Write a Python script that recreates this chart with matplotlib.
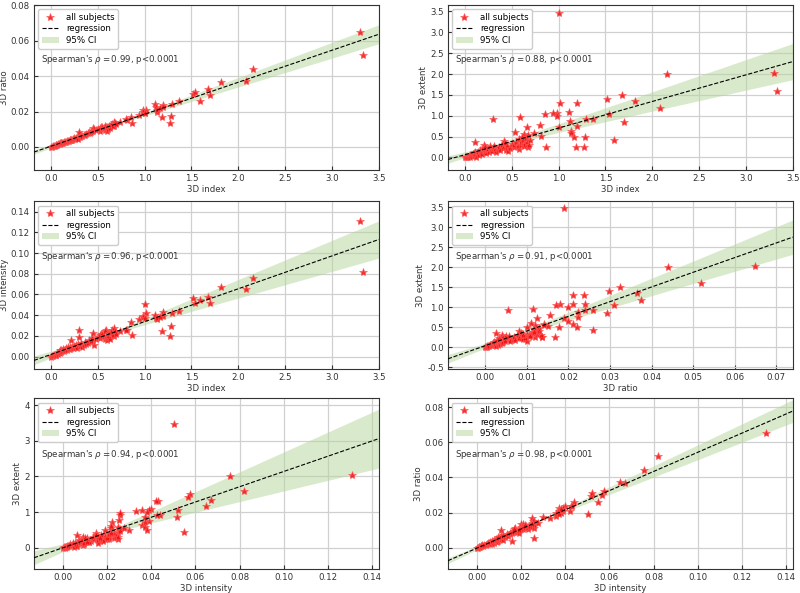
import numpy as np
import matplotlib
matplotlib.use("Agg")
import matplotlib.pyplot as plt
from matplotlib.ticker import FormatStrFormatter

# ---- per-subject data ----
index = [3.30, 3.33, 2.16, 2.08, 1.82, 1.68, 1.70, 1.59, 1.52, 1.54,
         1.00, 0.30, 1.37, 1.29, 1.28, 1.27, 1.19, 1.20, 1.02, 1.11,
         0.98, 0.94, 0.85, 0.59, 0.98, 1.12, 1.20, 1.13, 1.13, 1.16,
         1.00, 0.87, 0.81, 0.80, 0.74, 0.66, 0.63, 0.53, 0.52, 0.58,
         0.67, 0.11, 0.20, 0.42, 0.45,
         0.00, 0.01, 0.02, 0.03, 0.04, 0.05, 0.06, 0.07, 0.08, 0.09,
         0.10, 0.10, 0.11, 0.12, 0.13, 0.14, 0.15, 0.16, 0.17, 0.18,
         0.19, 0.20, 0.21, 0.22, 0.23, 0.24, 0.25, 0.26, 0.27, 0.28,
         0.29, 0.30, 0.31, 0.32, 0.33, 0.35, 0.36, 0.38, 0.40, 0.41,
         0.43, 0.44, 0.45, 0.46, 0.48, 0.50, 0.52, 0.55, 0.57, 0.58,
         0.60, 0.60, 0.61, 0.62, 0.63, 0.64, 0.65, 0.66, 0.67, 0.68,
         0.70]
ratio = [0.0650, 0.0520, 0.0440, 0.0374, 0.0366, 0.0325, 0.0293, 0.0260, 0.0298, 0.0310,
         0.0190, 0.0055, 0.0258, 0.0240, 0.0176, 0.0136, 0.0168, 0.0237, 0.0210, 0.0240,
         0.0210, 0.0180, 0.0170, 0.0115, 0.0200, 0.0224, 0.0224, 0.0200, 0.0210, 0.0220,
         0.0190, 0.0136, 0.0150, 0.0155, 0.0140, 0.0125, 0.0120, 0.0110, 0.0090, 0.0095,
         0.0120, 0.0025, 0.0040, 0.0080, 0.0090,
         0.0000, 0.0002, 0.0003, 0.0005, 0.0007, 0.0010, 0.0009, 0.0013, 0.0015, 0.0016,
         0.0018, 0.0022, 0.0020, 0.0025, 0.0023, 0.0027, 0.0030, 0.0028, 0.0033, 0.0035,
         0.0032, 0.0038, 0.0040, 0.0042, 0.0039, 0.0045, 0.0048, 0.0043, 0.0050, 0.0052,
         0.0047, 0.0085, 0.0058, 0.0062, 0.0060, 0.0066, 0.0070, 0.0072, 0.0078, 0.0082,
         0.0085, 0.0090, 0.0105, 0.0100, 0.0095, 0.0100, 0.0108, 0.0112, 0.0105, 0.0118,
         0.0090, 0.0115, 0.0100, 0.0120, 0.0108, 0.0125, 0.0130, 0.0118, 0.0140, 0.0135,
         0.0128]
intensity = [0.1310, 0.0820, 0.0755, 0.0650, 0.0670, 0.0578, 0.0515, 0.0550, 0.0565, 0.0520,
             0.0505, 0.0260, 0.0440, 0.0425, 0.0300, 0.0200, 0.0250, 0.0430, 0.0420, 0.0400,
             0.0390, 0.0360, 0.0330, 0.0260, 0.0380, 0.0370, 0.0390, 0.0360, 0.0370, 0.0380,
             0.0370, 0.0210, 0.0260, 0.0255, 0.0250, 0.0225, 0.0220, 0.0220, 0.0180, 0.0170,
             0.0200, 0.0065, 0.0090, 0.0150, 0.0160,
             0.0000, 0.0005, 0.0008, 0.0012, 0.0015, 0.0020, 0.0018, 0.0030, 0.0025, 0.0040,
             0.0035, 0.0060, 0.0045, 0.0050, 0.0070, 0.0055, 0.0065, 0.0080, 0.0060, 0.0090,
             0.0075, 0.0070, 0.0160, 0.0085, 0.0095, 0.0080, 0.0100, 0.0090, 0.0110, 0.0085,
             0.0120, 0.0190, 0.0100, 0.0130, 0.0095, 0.0110, 0.0140, 0.0120, 0.0135, 0.0160,
             0.0150, 0.0180, 0.0230, 0.0110, 0.0170, 0.0190, 0.0210, 0.0220, 0.0200, 0.0250,
             0.0160, 0.0175, 0.0190, 0.0230, 0.0170, 0.0240, 0.0260, 0.0210, 0.0275, 0.0250,
             0.0220]
extent = [2.03, 1.60, 2.00, 1.18, 1.35, 1.50, 0.86, 0.43, 1.41, 1.05,
          3.47, 0.93, 0.93, 0.92, 0.50, 0.24, 0.24, 1.31, 1.31, 1.08,
          1.07, 1.07, 1.04, 0.96, 1.00, 0.87, 0.76, 0.64, 0.58, 0.50,
          0.72, 0.24, 0.52, 0.79, 0.58, 0.72, 0.56, 0.60, 0.24, 0.20,
          0.26, 0.36, 0.30, 0.40, 0.24,
          0.00, 0.01, 0.02, 0.00, 0.03, 0.05, 0.02, 0.06, 0.04, 0.08,
          0.10, 0.05, 0.12, 0.02, 0.09, 0.14, 0.06, 0.18, 0.11, 0.08,
          0.22, 0.15, 0.13, 0.25, 0.10, 0.17, 0.20, 0.12, 0.27, 0.19,
          0.15, 0.23, 0.28, 0.18, 0.14, 0.21, 0.25, 0.17, 0.30, 0.22,
          0.35, 0.19, 0.28, 0.16, 0.23, 0.33, 0.30, 0.38, 0.27, 0.45,
          0.31, 0.36, 0.50, 0.42, 0.28, 0.33, 0.47, 0.38, 0.55, 0.30,
          0.41]

variables = {"3D index": index, "3D ratio": ratio,
             "3D intensity": intensity, "3D extent": extent}

rho_text = ["0.99", "0.88", "0.96", "0.91", "0.94", "0.98"]
panels = [("3D index", "3D ratio"), ("3D index", "3D extent"),
          ("3D index", "3D intensity"), ("3D ratio", "3D extent"),
          ("3D intensity", "3D extent"), ("3D intensity", "3D ratio")]

limits = [((-0.18, 3.5), (-0.013, 0.08)),
          ((-0.18, 3.5), (-0.3, 3.65)),
          ((-0.18, 3.5), (-0.012, 0.15)),
          ((-0.009, 0.074), (-0.55, 3.65)),
          ((-0.013, 0.143), (-0.6, 4.2)),
          ((-0.013, 0.143), (-0.012, 0.085))]
ticks = [(np.arange(0, 3.51, 0.5), np.arange(0, 0.081, 0.02), "%.1f", "%.2f"),
         (np.arange(0, 3.51, 0.5), np.arange(0, 3.51, 0.5), "%.1f", "%.1f"),
         (np.arange(0, 3.51, 0.5), np.arange(0, 0.141, 0.02), "%.1f", "%.2f"),
         (np.arange(0, 0.071, 0.01), np.arange(-0.5, 3.51, 0.5), "%.2f", "%.1f"),
         (np.arange(0, 0.141, 0.02), np.arange(0, 4.1, 1), "%.2f", "%d"),
         (np.arange(0, 0.141, 0.02), np.arange(0, 0.081, 0.02), "%.2f", "%.2f")]

FS = 6.2
TXT = "#333333"
fig = plt.figure(figsize=(8.0, 5.93), dpi=100)
lefts = [0.0425, 0.56]
rows = [(0.7133, 0.278), (0.3777, 0.283), (0.0405, 0.288)]
W = 0.431

for k, (xn, yn) in enumerate(panels):
    r, c = divmod(k, 2)
    ax = fig.add_axes([lefts[c], rows[r][0], W, rows[r][1]])
    x = np.asarray(variables[xn])
    y = np.asarray(variables[yn])
    (xl, yl) = limits[k]
    ax.set_xlim(*xl)
    ax.set_ylim(*yl)
    # OLS regression with robust (HC3) 95% confidence band
    n = len(x)
    X = np.column_stack([np.ones(n), x])
    XtX_inv = np.linalg.inv(X.T @ X)
    beta = XtX_inv @ X.T @ y
    e = y - X @ beta
    h = np.sum((X @ XtX_inv) * X, axis=1)
    meat = X.T @ (X * (e ** 2 / (1 - h) ** 2)[:, None])
    cov = XtX_inv @ meat @ XtX_inv
    xg = np.linspace(xl[0], xl[1], 200)
    G = np.column_stack([np.ones_like(xg), xg])
    yg = G @ beta
    se = np.sqrt(np.sum((G @ cov) * G, axis=1))
    t = 1.984
    ax.fill_between(xg, yg - t * se, yg + t * se, color="#b5d69b", alpha=0.5,
                    linewidth=0, label="95% CI", zorder=2)
    ax.plot(x, y, linestyle="none", marker="*", color="#ee1111", markersize=6,
            markeredgewidth=0.5, markeredgecolor="#ff5555", alpha=0.85,
            label="all subjects", zorder=3)
    ax.plot(xg, yg, "k--", linewidth=0.8, label="regression", zorder=4)

    ax.set_xticks(ticks[k][0])
    ax.set_yticks(ticks[k][1])
    ax.xaxis.set_major_formatter(FormatStrFormatter(ticks[k][2]))
    ax.yaxis.set_major_formatter(FormatStrFormatter(ticks[k][3]))
    ax.grid(True, color="#d0d0d0", linewidth=0.9, zorder=0)
    ax.set_axisbelow(True)
    ax.tick_params(direction="in", length=3, labelsize=FS, colors=TXT, pad=3)
    for sp in ax.spines.values():
        sp.set_color("#333333")
        sp.set_linewidth(0.8)
    ax.set_xlabel(xn, fontsize=FS, color=TXT, labelpad=1)
    ax.set_ylabel(yn, fontsize=FS, color=TXT, labelpad=1.5)

    hh, ll = ax.get_legend_handles_labels()
    order = [ll.index("all subjects"), ll.index("regression"), ll.index("95% CI")]
    ax.legend([hh[i] for i in order], [ll[i] for i in order], loc="upper left",
              fontsize=FS, frameon=True, edgecolor="#cccccc", framealpha=1,
              borderpad=0.4, labelspacing=0.3, handlelength=2.0)
    ax.text(0.02, 0.67, "Spearman's $\\rho = %s$, p<0.0001" % rho_text[k],
            transform=ax.transAxes, fontsize=FS, color=TXT, va="center", ha="left")

fig.savefig("out.png", dpi=100)
